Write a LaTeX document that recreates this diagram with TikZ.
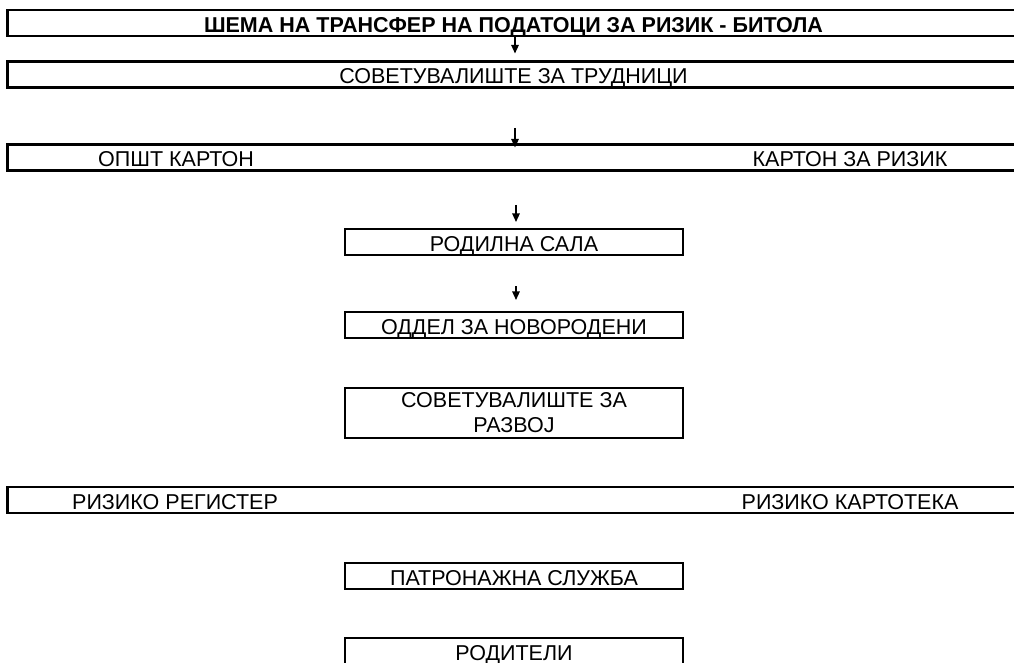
\documentclass[tikz,border=0pt]{standalone}
\usepackage{fontspec}
\setmainfont{Liberation Sans}
\usetikzlibrary{arrows.meta}
\begin{document}
\begin{tikzpicture}[x=1pt,y=-1pt,
  box/.style={draw=black,line width=2.1pt,rectangle,inner sep=0pt,font=\fontsize{21.5}{25}\selectfont},
  tx/.style={text height=18.5pt,text depth=0pt},
  wide/.style={box,minimum width=1022pt,minimum height=26pt},
  mid/.style={box,tx,minimum width=338pt,minimum height=26pt},
  lbl/.style={inner sep=0pt,tx,font=\fontsize{21.5}{25}\selectfont},
  arr/.style={line width=1.3pt,-{Triangle[width=7.5pt,length=8.5pt]}}]
\useasboundingbox (0,0) rectangle (1014,663);
\clip (0,0) rectangle (1014,663);
% wide boxes
\node[wide] (t) at (518.5,23) {};
\node[lbl,font=\fontsize{21.5}{25}\selectfont\bfseries] (tt) at (513.5,23) {ШЕМА НА ТРАНСФЕР НА ПОДАТОЦИ ЗА РИЗИК - БИТОЛА};
\node[wide] (s) at (518.5,74.5) {};
\node[lbl] (st) at (513.5,74.5) {СОВЕТУВАЛИШТЕ ЗА ТРУДНИЦИ};
\node[wide] (k) at (518.5,157.5) {};
\node[lbl] (k1) at (176,157.5) {ОПШТ КАРТОН};
\node[lbl] (k2) at (850,157.5) {КАРТОН ЗА РИЗИК};
% centre boxes
\node[mid] (r) at (514,242) {РОДИЛНА САЛА};
\node[mid] (o) at (514,325) {ОДДЕЛ ЗА НОВОРОДЕНИ};
\node[box,minimum width=338pt,minimum height=50pt,align=center] (sr) at (514,413) {СОВЕТУВАЛИШТЕ ЗА\\РАЗВОЈ};
\node[wide] (z) at (518.5,500) {};
\node[lbl] (z1) at (175,500) {РИЗИКО РЕГИСТЕР};
\node[lbl] (z2) at (850,500) {РИЗИКО КАРТОТЕКА};
\node[mid] (p) at (514,576) {ПАТРОНАЖНА СЛУЖБА};
\node[mid] (rd) at (514,651) {РОДИТЕЛИ};
% arrows
\draw[arr] (t.south -| 515,0) -- ([yshift=7pt]s.north -| 515,0);
\coordinate (a2) at (515,128);
\draw[arr] (a2) -- ([yshift=-4pt]k.north -| a2);
\coordinate (a3) at (516,205);
\draw[arr] (a3) -- ([yshift=6pt]r.north -| a3);
\coordinate (a4) at (516,286);
\draw[arr] (a4) -- ([yshift=11pt]o.north -| a4);
\end{tikzpicture}
\end{document}
